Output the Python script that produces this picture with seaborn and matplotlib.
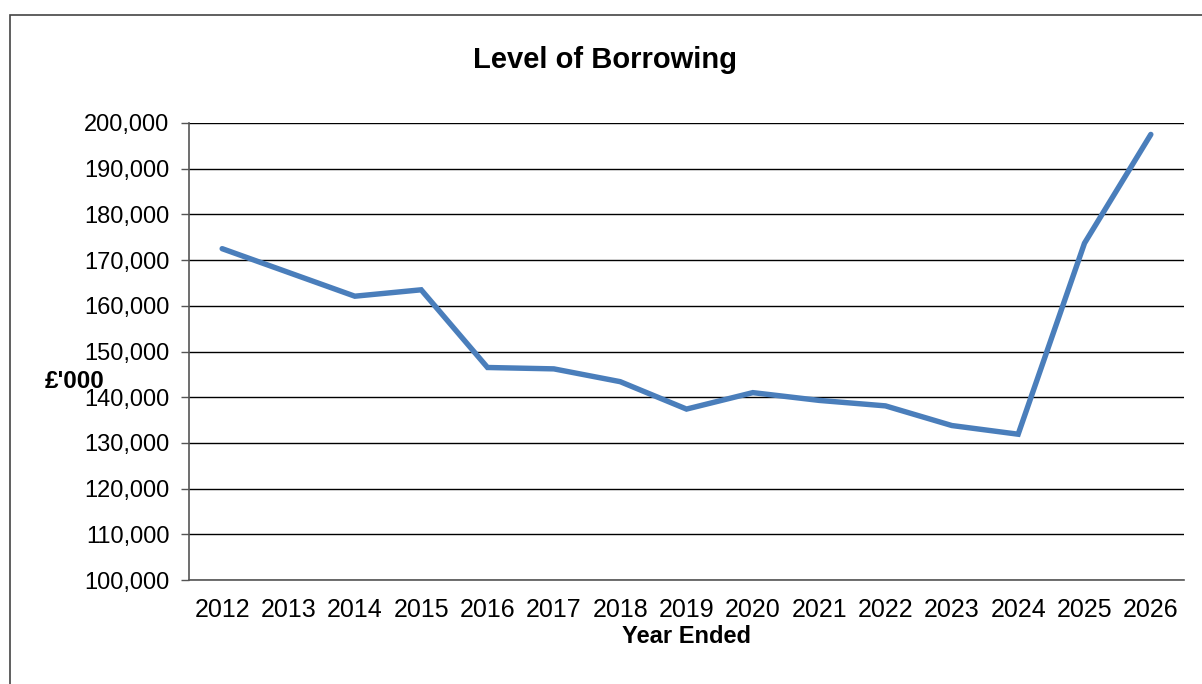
import matplotlib
matplotlib.use("Agg")
import matplotlib.pyplot as plt
import seaborn as sns
import pandas as pd
import numpy as np
from matplotlib.patches import Rectangle
from matplotlib.ticker import FuncFormatter, MultipleLocator

years = ['2012', '2013', '2014', '2015', '2016', '2017', '2018', '2019',
         '2020', '2021', '2022', '2023', '2024', '2025', '2026']
borrowing = [172500, 167300, 162100, 163500, 146500, 146200, 143400, 137400,
             141000, 139300, 138100, 133800, 131900, 173700, 197500]

df = pd.DataFrame({'Year': years, 'Borrowing': borrowing})

sns.set_style("white")
plt.rcParams['font.family'] = ['Liberation Sans', 'DejaVu Sans']
plt.rcParams['text.color'] = 'black'
plt.rcParams['xtick.labelcolor'] = 'black'
plt.rcParams['ytick.labelcolor'] = 'black'
plt.rcParams['axes.labelcolor'] = 'black'

fig = plt.figure(figsize=(12.02, 6.84), dpi=100)
ax = fig.add_axes([189/1202, 1 - 580/684, (1184-189)/1202, (580-123)/684])

sns.lineplot(data=df, x='Year', y='Borrowing', ax=ax, color='#4A7EBB',
             linewidth=3.9, solid_capstyle='round', solid_joinstyle='miter')

ax.set_xlim(-0.5, len(years) - 0.5)
ax.set_ylim(100000, 200000)
ax.yaxis.set_major_locator(MultipleLocator(10000))
ax.yaxis.set_major_formatter(FuncFormatter(lambda v, p: f'{int(v):,}'))
ax.grid(axis='y', color='black', linewidth=1)
ax.set_axisbelow(True)

# ticks: labels at category centres, marks at category boundaries
ax.set_xticks(np.arange(len(years)))
ax.set_xticklabels(years)
ax.set_xticks(np.arange(-0.5, len(years)), minor=True)
ax.tick_params(axis='x', which='major', length=0, pad=13, labelsize=18, labelcolor='black')
ax.tick_params(axis='x', which='minor', length=6, width=1, color='#555555', direction='out')
ax.tick_params(axis='y', length=6, width=1, color='#555555', direction='out', left=True,
               labelsize=17, pad=8, labelcolor='black')

for s in ['top', 'right']:
    ax.spines[s].set_visible(False)
for s in ['left', 'bottom']:
    ax.spines[s].set_color('#555555')
    ax.spines[s].set_linewidth(1.2)

ax.set_xlabel('Year Ended', fontsize=17, fontweight='bold', labelpad=2, color='black')
ax.set_ylabel('')
fig.text(45/1202, 1 - 382/684, "£'000", fontsize=17.5, fontweight='bold',
         ha='left', va='center', color='black')
fig.text(605/1202, 1 - 60/684, 'Level of Borrowing', fontsize=21, fontweight='bold',
         ha='center', va='center', color='black')

# outer chart border
fig.patches.append(Rectangle((10/1202, -0.1), 1.2, 1 - 15/684 + 0.1,
                             transform=fig.transFigure, fill=False,
                             edgecolor='#444444', linewidth=1.2))

fig.savefig('out.png', dpi=100)
